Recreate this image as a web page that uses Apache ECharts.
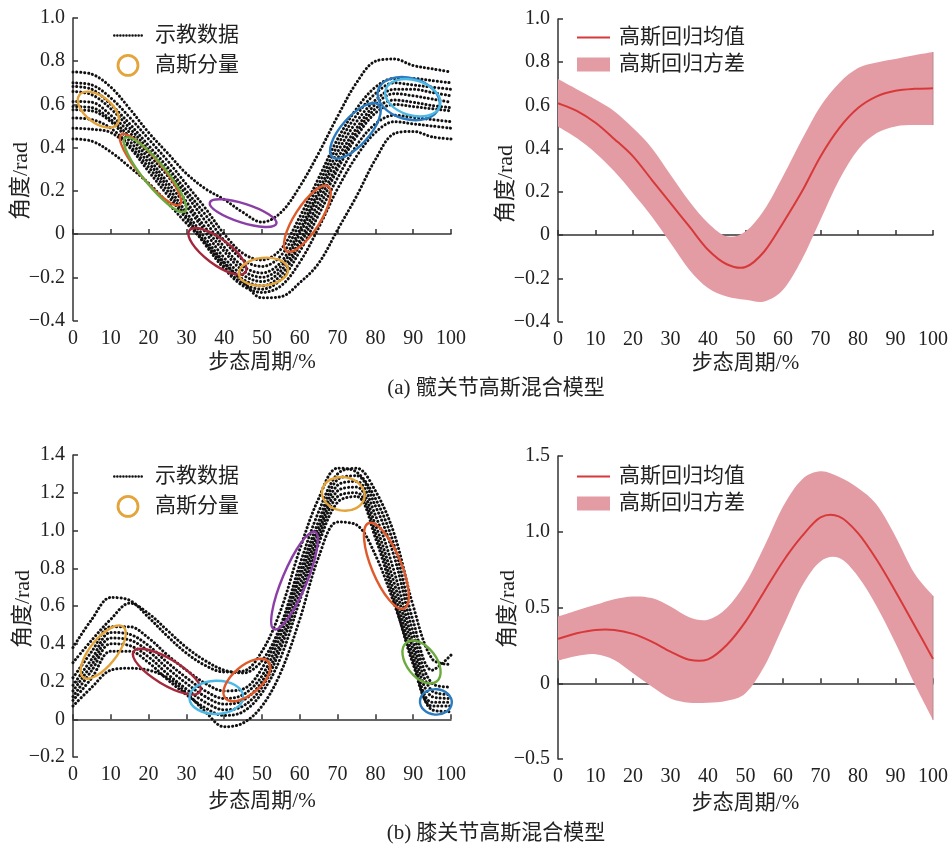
<!DOCTYPE html>
<html>
<head>
<meta charset="utf-8">
<script src="https://cdn.jsdelivr.net/npm/echarts/dist/echarts.min.js"></script>
<style>html,body{margin:0;background:#fff}#main{width:951px;height:848px}</style>
</head>
<body>
<div id="main"></div>
<script>
// 步态周期采样点 (%)
var phase = [0, 5, 10, 15, 20, 25, 30, 35, 40, 45, 50, 55, 60, 65, 70, 75, 80, 85, 90, 95, 100];

// 髋关节示教数据
var hipTop = [0.75, 0.74, 0.68, 0.58, 0.47, 0.375, 0.28, 0.21, 0.16, 0.10, 0.055, 0.10, 0.22, 0.375, 0.545, 0.70, 0.80, 0.81, 0.78, 0.765, 0.75];
var hipC1 = [0.70, 0.69, 0.63, 0.54, 0.44, 0.34, 0.23, 0.12, 0.00, -0.09, -0.12, -0.07, 0.08, 0.26, 0.44, 0.58, 0.68, 0.72, 0.72, 0.71, 0.70];
var hipC2 = [0.683, 0.67, 0.60, 0.51, 0.41, 0.31, 0.20, 0.09, -0.03, -0.12, -0.15, -0.10, 0.05, 0.23, 0.41, 0.55, 0.65, 0.70, 0.69, 0.68, 0.67];
var hipC3 = [0.66, 0.645, 0.58, 0.49, 0.39, 0.29, 0.18, 0.06, -0.06, -0.15, -0.18, -0.13, 0.02, 0.20, 0.38, 0.52, 0.62, 0.67, 0.67, 0.655, 0.64];
var hipC4 = [0.614, 0.61, 0.55, 0.47, 0.37, 0.27, 0.15, 0.03, -0.08, -0.17, -0.20, -0.15, 0.00, 0.18, 0.35, 0.49, 0.60, 0.65, 0.64, 0.625, 0.61];
var hipC5 = [0.59, 0.585, 0.53, 0.45, 0.35, 0.24, 0.13, 0.01, -0.11, -0.19, -0.22, -0.17, -0.03, 0.15, 0.32, 0.47, 0.58, 0.62, 0.61, 0.595, 0.585];
var hipC6 = [0.575, 0.57, 0.52, 0.43, 0.33, 0.22, 0.10, -0.02, -0.13, -0.21, -0.24, -0.19, -0.05, 0.12, 0.30, 0.45, 0.56, 0.60, 0.59, 0.58, 0.57];
var hipC7 = [0.537, 0.53, 0.49, 0.41, 0.31, 0.20, 0.08, -0.04, -0.15, -0.23, -0.255, -0.21, -0.08, 0.09, 0.26, 0.41, 0.51, 0.55, 0.54, 0.53, 0.52];
var hipC8 = [0.49, 0.485, 0.47, 0.40, 0.29, 0.18, 0.07, -0.05, -0.16, -0.24, -0.27, -0.24, -0.13, 0.03, 0.21, 0.36, 0.47, 0.52, 0.51, 0.50, 0.49];
var hipBottom = [0.44, 0.43, 0.38, 0.31, 0.235, 0.145, 0.05, -0.04, -0.135, -0.22, -0.295, -0.29, -0.225, -0.135, 0.02, 0.175, 0.345, 0.465, 0.475, 0.45, 0.44];

// 膝关节示教数据
var kneeK1 = [0.38, 0.53, 0.645, 0.63, 0.54, 0.44, 0.35, 0.285, 0.25, 0.255, 0.36, 0.58, 0.90, 1.17, 1.33, 1.31, 1.17, 0.92, 0.52, 0.26, 0.34];
var kneeK2 = [0.30, 0.42, 0.53, 0.615, 0.56, 0.47, 0.38, 0.31, 0.26, 0.245, 0.31, 0.50, 0.82, 1.10, 1.30, 1.33, 1.21, 0.98, 0.60, 0.32, 0.29];
var kneeK3 = [0.22, 0.36, 0.49, 0.49, 0.43, 0.34, 0.26, 0.19, 0.15, 0.16, 0.27, 0.48, 0.78, 1.05, 1.27, 1.29, 1.13, 0.86, 0.46, 0.19, 0.17];
var kneeK4 = [0.18, 0.32, 0.46, 0.45, 0.39, 0.30, 0.22, 0.15, 0.11, 0.13, 0.23, 0.45, 0.75, 1.02, 1.24, 1.26, 1.08, 0.78, 0.41, 0.15, 0.13];
var kneeK5 = [0.15, 0.29, 0.43, 0.42, 0.36, 0.27, 0.19, 0.12, 0.08, 0.10, 0.20, 0.41, 0.71, 0.99, 1.21, 1.23, 1.03, 0.72, 0.37, 0.12, 0.11];
var kneeK6 = [0.12, 0.26, 0.40, 0.39, 0.33, 0.24, 0.16, 0.09, 0.05, 0.07, 0.17, 0.38, 0.67, 0.96, 1.18, 1.20, 0.99, 0.67, 0.33, 0.09, 0.09];
var kneeK7 = [0.10, 0.22, 0.36, 0.36, 0.30, 0.21, 0.13, 0.06, 0.02, 0.04, 0.14, 0.33, 0.63, 0.93, 1.15, 1.18, 0.96, 0.63, 0.29, 0.07, 0.07];
var kneeK8 = [0.07, 0.17, 0.26, 0.27, 0.26, 0.22, 0.14, 0.04, -0.04, -0.02, 0.07, 0.25, 0.53, 0.86, 1.045, 1.03, 0.87, 0.61, 0.31, 0.05, 0.04];

// 高斯分量: [中心x, 中心y, 长轴端点x, 长轴端点y, 短长轴比]
var hipGauss = [
  [6.7, 0.576, 11.7, 0.508, 0.55],
  [20.5, 0.298, 28.3, 0.136, 0.24],
  [21.7, 0.275, 29.6, 0.105, 0.24],
  [45.0, 0.097, 53.8, 0.048, 0.27],
  [38.2, -0.08, 45.6, -0.177, 0.36],
  [50.4, -0.174, 56.9, -0.162, 0.56],
  [62.0, 0.071, 67.5, 0.221, 0.33],
  [74.7, 0.478, 80.8, 0.599, 0.40],
  [88.8, 0.627, 96.9, 0.588, 0.65],
  [89.9, 0.631, 97.1, 0.594, 0.62]
];
var kneeGauss = [
  [8.0, 0.356, 13.3, 0.49, 0.41],
  [24.8, 0.252, 33.6, 0.146, 0.33],
  [37.9, 0.116, 45.0, 0.12, 0.62],
  [46.0, 0.208, 51.7, 0.305, 0.50],
  [58.6, 0.735, 64.0, 0.993, 0.23],
  [71.5, 1.194, 77.1, 1.175, 0.78],
  [82.9, 0.813, 87.6, 0.587, 0.32],
  [92.2, 0.303, 96.2, 0.20, 0.60],
  [96.0, 0.092, 100.2, 0.085, 0.80]
];

// 高斯回归
var hipMean = [0.61, 0.575, 0.52, 0.445, 0.364, 0.256, 0.148, 0.04, -0.068, -0.135, -0.148, -0.076, 0.056, 0.20, 0.364, 0.495, 0.588, 0.642, 0.668, 0.677, 0.679];
var hipUpper = [0.722, 0.675, 0.627, 0.573, 0.495, 0.403, 0.279, 0.156, 0.056, -0.006, 0.017, 0.117, 0.272, 0.441, 0.596, 0.704, 0.773, 0.799, 0.815, 0.832, 0.847];
var hipLower = [0.503, 0.449, 0.38, 0.295, 0.194, 0.086, -0.037, -0.16, -0.245, -0.284, -0.299, -0.307, -0.253, -0.114, 0.071, 0.256, 0.395, 0.472, 0.503, 0.509, 0.509];
var kneeMean = [0.293, 0.33, 0.352, 0.352, 0.326, 0.275, 0.209, 0.155, 0.158, 0.253, 0.407, 0.606, 0.804, 0.969, 1.095, 1.10, 0.991, 0.815, 0.606, 0.385, 0.161];
var kneeUpper = [0.44, 0.48, 0.518, 0.555, 0.573, 0.562, 0.507, 0.436, 0.419, 0.496, 0.661, 0.903, 1.167, 1.344, 1.399, 1.361, 1.289, 1.178, 0.969, 0.727, 0.577];
var kneeLower = [0.15, 0.18, 0.192, 0.154, 0.066, -0.022, -0.10, -0.128, -0.128, -0.115, -0.066, 0.11, 0.374, 0.639, 0.804, 0.826, 0.705, 0.507, 0.264, 0.0, -0.242];

var hipColors = ['#E3A43B', '#DE5A2B', '#6BAA3D', '#8B3FA6', '#A3283C', '#E3A43B', '#DE5A2B', '#2B7BBF', '#2B7BBF', '#4CB8E6'];
var kneeColors = ['#E3A43B', '#A3283C', '#4CB8E6', '#DE5A2B', '#8B3FA6', '#E3A43B', '#DE5A2B', '#6BAA3D', '#2B7BBF'];

var FONT = "'Liberation Serif', 'Noto Sans CJK SC', serif";
var TXT = '#222';
var BAND = '#E39CA3';
var RED = '#D7393B';
// legend icons
var DOTS_ICON = 'path://M0,1.3a1.3,1.3 0 1,0 2.6,0a1.3,1.3 0 1,0 -2.6,0M3,1.3a1.3,1.3 0 1,0 2.6,0a1.3,1.3 0 1,0 -2.6,0M6,1.3a1.3,1.3 0 1,0 2.6,0a1.3,1.3 0 1,0 -2.6,0M9,1.3a1.3,1.3 0 1,0 2.6,0a1.3,1.3 0 1,0 -2.6,0M12,1.3a1.3,1.3 0 1,0 2.6,0a1.3,1.3 0 1,0 -2.6,0M15,1.3a1.3,1.3 0 1,0 2.6,0a1.3,1.3 0 1,0 -2.6,0M18,1.3a1.3,1.3 0 1,0 2.6,0a1.3,1.3 0 1,0 -2.6,0M21,1.3a1.3,1.3 0 1,0 2.6,0a1.3,1.3 0 1,0 -2.6,0M24,1.3a1.3,1.3 0 1,0 2.6,0a1.3,1.3 0 1,0 -2.6,0M27,1.3a1.3,1.3 0 1,0 2.6,0a1.3,1.3 0 1,0 -2.6,0';
var LINE_ICON = 'path://M0,0H33V2.2H0Z';

function pairs(ys) {
  return phase.map(function (x, i) { return [x, ys[i]]; });
}

function demo(ys, g) {
  return {
    type: 'line', name: '示教数据', xAxisIndex: g, yAxisIndex: g,
    data: pairs(ys), smooth: 0.35, symbol: 'none', silent: true,
    lineStyle: { color: '#111', width: 3, type: [0.1, 3.8], cap: 'round' },
    itemStyle: { color: '#111' }
  };
}

function gauss(items, colors, g) {
  return {
    type: 'custom', name: '高斯分量', xAxisIndex: g, yAxisIndex: g, z: 5,
    data: items, clip: false, silent: true,
    encode: { x: [0, 2], y: [1, 3] },
    itemStyle: { color: '#E3A43B' },
    renderItem: function (params, api) {
      var c = api.coord([api.value(0), api.value(1)]);
      var e = api.coord([api.value(2), api.value(3)]);
      var dx = e[0] - c[0], dy = e[1] - c[1];
      var a = Math.sqrt(dx * dx + dy * dy);
      return {
        type: 'ellipse', x: c[0], y: c[1],
        rotation: -Math.atan2(dy, dx),
        shape: { cx: 0, cy: 0, rx: a, ry: a * api.value(4) },
        style: { fill: 'none', stroke: colors[params.dataIndex], lineWidth: 2.4 }
      };
    }
  };
}

// smooth path through pixel points (Catmull-Rom as cubic bezier)
function curvePath(pts) {
  var d = '';
  for (var i = 0; i < pts.length - 1; i++) {
    var p0 = pts[Math.max(i - 1, 0)], p1 = pts[i], p2 = pts[i + 1], p3 = pts[Math.min(i + 2, pts.length - 1)];
    var c1x = p1[0] + (p2[0] - p0[0]) / 6, c1y = p1[1] + (p2[1] - p0[1]) / 6;
    var c2x = p2[0] - (p3[0] - p1[0]) / 6, c2y = p2[1] - (p3[1] - p1[1]) / 6;
    d += 'C' + c1x + ',' + c1y + ',' + c2x + ',' + c2y + ',' + p2[0] + ',' + p2[1];
  }
  return d;
}

function band(mean, upper, lower, g) {
  return [
    {
      type: 'custom', name: '高斯回归方差', xAxisIndex: g, yAxisIndex: g, z: 2,
      data: phase.map(function (x, i) { return [x, lower[i], upper[i]]; }),
      encode: { x: 0, y: [1, 2] }, silent: true,
      itemStyle: { color: BAND },
      renderItem: function (params, api) {
        if (params.dataIndexInside !== 0) return null;
        var n = params.dataInsideLength, up = [], lo = [];
        for (var i = 0; i < n; i++) {
          up.push(api.coord([api.value(0, i), api.value(2, i)]));
          lo.push(api.coord([api.value(0, i), api.value(1, i)]));
        }
        lo.reverse();
        var d = 'M' + up[0][0] + ',' + up[0][1] + curvePath(up) +
          'L' + lo[0][0] + ',' + lo[0][1] + curvePath(lo) + 'Z';
        return {
          type: 'group',
          children: [
            { type: 'path', shape: { pathData: d }, style: { fill: BAND } },
            { type: 'line', shape: { x1: up[n - 1][0], y1: up[n - 1][1], x2: lo[0][0], y2: lo[0][1] },
              style: { stroke: '#B98A8E', lineWidth: 1 } }
          ]
        };
      }
    },
    {
      type: 'custom', name: '高斯回归均值', xAxisIndex: g, yAxisIndex: g, z: 4,
      data: pairs(mean), encode: { x: 0, y: 1 }, silent: true,
      itemStyle: { color: RED },
      renderItem: function (params, api) {
        if (params.dataIndexInside !== 0) return null;
        var pts = [];
        for (var i = 0; i < params.dataInsideLength; i++) {
          pts.push(api.coord([api.value(0, i), api.value(1, i)]));
        }
        return {
          type: 'path',
          shape: { pathData: 'M' + pts[0][0] + ',' + pts[0][1] + curvePath(pts) },
          style: { fill: 'none', stroke: RED, lineWidth: 2 }
        };
      }
    }
  ];
}

function yFmt(v) {
  if (Math.abs(v) < 1e-9) return '0';
  return v.toFixed(1).replace('-', '\u2212');
}

function xAxis(g, gap) {
  return {
    type: 'value', gridIndex: g, min: 0, max: 100, interval: 10,
    name: '步态周期/%', nameLocation: 'middle', nameGap: gap,
    nameTextStyle: { fontFamily: FONT, fontSize: 21, color: TXT },
    axisLine: { lineStyle: { color: '#333', width: 1.5 } },
    axisTick: { inside: true, length: 5, lineStyle: { color: '#333', width: 1.5 } },
    axisLabel: { fontFamily: FONT, fontSize: 20, color: TXT, margin: 8 },
    splitLine: { show: false }
  };
}

function yAxis(g, min, max, step) {
  return {
    type: 'value', gridIndex: g, min: min, max: max, interval: step,
    axisLine: { show: true, lineStyle: { color: '#333', width: 1.5 } },
    axisTick: { show: true, inside: true, length: 5, lineStyle: { color: '#333', width: 1.5 } },
    axisLabel: { fontFamily: FONT, fontSize: 20, color: TXT, margin: 8, formatter: yFmt },
    splitLine: { show: false }
  };
}

function yTitle(x, y) {
  return {
    type: 'text', x: x, y: y, rotation: Math.PI / 2,
    style: { text: '角度/rad', font: '22px ' + FONT, fill: TXT, textAlign: 'center', textVerticalAlign: 'middle' }
  };
}

function caption(y, text) {
  return {
    type: 'text', x: 496, y: y,
    style: { text: text, font: '21px ' + FONT, fill: TXT, textAlign: 'center', textVerticalAlign: 'middle' }
  };
}

function leftLegend(top) {
  return {
    orient: 'vertical', left: 113, top: top, padding: 0,
    itemWidth: 30, itemHeight: 20, itemGap: 8, symbolKeepAspect: true,
    textStyle: { fontFamily: FONT, fontSize: 21, color: TXT, padding: [0, 0, 0, 7] },
    data: [
      { name: '示教数据', icon: DOTS_ICON, itemStyle: { color: '#111' } },
      { name: '高斯分量', icon: 'circle', itemStyle: { color: 'rgba(0,0,0,0)', borderColor: '#E3A43B', borderWidth: 2.8 } }
    ]
  };
}

function rightLegend(top) {
  return {
    orient: 'vertical', left: 577, top: top, padding: 0,
    itemWidth: 33, itemHeight: 14, itemGap: 6, symbolKeepAspect: true,
    textStyle: { fontFamily: FONT, fontSize: 21, color: TXT, padding: [0, 0, 0, 4] },
    data: [
      { name: '高斯回归均值', icon: LINE_ICON, itemStyle: { color: RED } },
      { name: '高斯回归方差', icon: 'rect', itemStyle: { color: BAND } }
    ]
  };
}

var series = [];
[hipTop, hipC1, hipC2, hipC3, hipC4, hipC5, hipC6, hipC7, hipC8, hipBottom].forEach(function (s) { series.push(demo(s, 0)); });
series.push(gauss(hipGauss, hipColors, 0));
series = series.concat(band(hipMean, hipUpper, hipLower, 1));
[kneeK1, kneeK2, kneeK3, kneeK4, kneeK5, kneeK6, kneeK7, kneeK8].forEach(function (s) { series.push(demo(s, 2)); });
series.push(gauss(kneeGauss, kneeColors, 2));
series = series.concat(band(kneeMean, kneeUpper, kneeLower, 3));

var chart = echarts.init(document.getElementById('main'), null, { renderer: 'canvas' });
chart.setOption({
  animation: false,
  backgroundColor: '#fff',
  grid: [
    { left: 73, top: 18, width: 378, height: 302.5 },
    { left: 558, top: 19, width: 378, height: 302.5 },
    { left: 73, top: 455, width: 378, height: 302 },
    { left: 558, top: 456, width: 378, height: 303 }
  ],
  xAxis: [xAxis(0, 31), xAxis(1, 31), xAxis(2, 34), xAxis(3, 34)],
  yAxis: [
    yAxis(0, -0.4, 1.0, 0.2),
    yAxis(1, -0.4, 1.0, 0.2),
    yAxis(2, -0.2, 1.4, 0.2),
    yAxis(3, -0.5, 1.5, 0.5)
  ],
  legend: [leftLegend(25), rightLegend(27), leftLegend(466), rightLegend(466)],
  graphic: [
    yTitle(21, 181), yTitle(506, 184), yTitle(23, 609), yTitle(508, 609),
    caption(388, '(a) 髋关节高斯混合模型'),
    caption(833, '(b) 膝关节高斯混合模型')
  ],
  series: series
});
</script>
</body>
</html>
